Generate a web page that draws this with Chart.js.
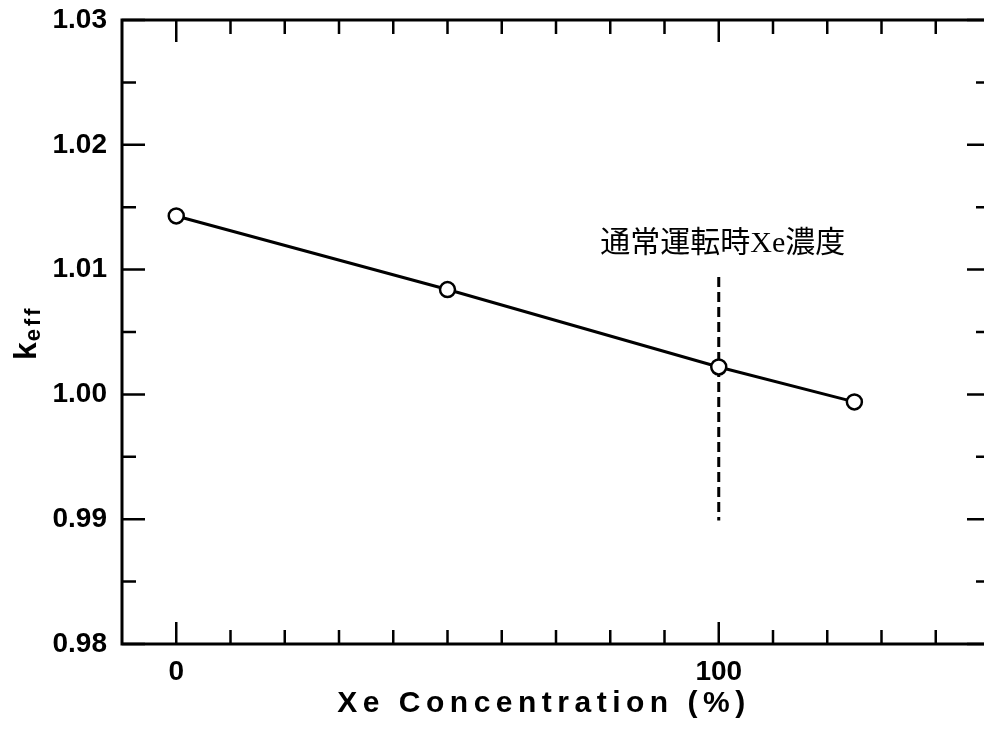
<!DOCTYPE html>
<html>
<head>
<meta charset="utf-8">
<script src="https://cdn.jsdelivr.net/npm/chart.js@4"></script>
<style>
  html, body { margin: 0; padding: 0; overflow: hidden; background: #fff; }
  #wrap { width: 1000px; height: 729px; }
</style>
</head>
<body>
<div id="wrap"><canvas id="myChart"></canvas></div>
<script>
const xeConc = [0, 50, 100, 125];
const keff = [1.0143, 1.0084, 1.0022, 0.9994];
const markerX = [100, 100];
const markerY = [1.0094, 0.9899];
const xLabelTicks = [0, 100];
const xMinorTicks = [10, 20, 30, 40, 50, 60, 70, 80, 90, 110, 120, 130, 140];
const yLabelTicks = [0.98, 0.99, 1.0, 1.01, 1.02, 1.03];
const yMinorTicks = [0.985, 0.995, 1.005, 1.015, 1.025];
const noteText = "通常運転時Xe濃度";
const noteX = 100;
const noteY = 1.0117;
const xTitle = "Xe Concentration (%)";

const tickFont = { family: "'Liberation Sans', Arial, sans-serif", size: 28, weight: "bold" };

// frame and inward ticks on all four sides
const framePlugin = {
  id: "frame",
  beforeDatasetsDraw(chart) {
    const { ctx, chartArea: a, scales } = chart;
    const xs = scales.x, ys = scales.y;
    ctx.save();
    ctx.strokeStyle = "black";
    ctx.lineWidth = 2.5;
    ctx.beginPath();
    const tickX = (v, len) => {
      const p = xs.getPixelForValue(v);
      ctx.moveTo(p, a.bottom); ctx.lineTo(p, a.bottom - len);
      ctx.moveTo(p, a.top); ctx.lineTo(p, a.top + len);
    };
    const tickY = (v, len) => {
      const p = ys.getPixelForValue(v);
      ctx.moveTo(a.left, p); ctx.lineTo(a.left + len, p);
      ctx.moveTo(a.right, p); ctx.lineTo(a.right - len, p);
    };
    xLabelTicks.forEach(v => tickX(v, 22));
    xMinorTicks.forEach(v => tickX(v, 14));
    yLabelTicks.forEach(v => tickY(v, 23));
    yMinorTicks.forEach(v => tickY(v, 14));
    ctx.stroke();
    ctx.lineWidth = 3;
    ctx.strokeRect(a.left, a.top, a.right - a.left, a.bottom - a.top);
    ctx.restore();
  },
  afterDraw(chart) {
    const { ctx, chartArea: a, scales } = chart;
    ctx.save();
    ctx.fillStyle = "black";

    // x title
    ctx.font = "bold 30px 'Liberation Sans', Arial, sans-serif";
    ctx.letterSpacing = "5.5px";
    ctx.textAlign = "center";
    ctx.textBaseline = "alphabetic";
    ctx.fillText(xTitle, a.left + 422, 712);

    // y title k_eff
    ctx.translate(36, 360);
    ctx.rotate(-Math.PI / 2);
    ctx.textAlign = "left";
    ctx.letterSpacing = "0px";
    ctx.font = "bold 32px 'Liberation Sans', Arial, sans-serif";
    ctx.fillText("k", 0, 0);
    const w = ctx.measureText("k").width;
    ctx.font = "bold 22px 'Liberation Sans', Arial, sans-serif";
    ctx.letterSpacing = "3px";
    ctx.fillText("eff", w + 1, 4);
    ctx.restore();

    // annotation
    ctx.save();
    ctx.fillStyle = "black";
    ctx.font = "30px 'Liberation Serif', 'Noto Sans CJK JP', serif";
    ctx.textAlign = "center";
    ctx.textBaseline = "alphabetic";
    ctx.fillText(noteText, scales.x.getPixelForValue(noteX) + 4, scales.y.getPixelForValue(noteY) + 4);
    ctx.restore();
  }
};

const ctx = document.getElementById("myChart");
new Chart(ctx, {
  type: "scatter",
  data: {
    datasets: [
      {
        data: xeConc.map((x, i) => ({ x: x, y: keff[i] })),
        showLine: true,
        borderColor: "black",
        borderWidth: 3,
        pointRadius: 7.5,
        pointBackgroundColor: "white",
        pointBorderColor: "black",
        pointBorderWidth: 2.5,
      },
      {
        data: markerX.map((x, i) => ({ x: x, y: markerY[i] })),
        showLine: true,
        borderColor: "black",
        borderWidth: 3,
        borderDash: [10, 5],
        pointRadius: 0,
      },
    ],
  },
  options: {
    responsive: true,
    maintainAspectRatio: false,
    animation: false,
    layout: { padding: { top: 20, right: 8, left: 0, bottom: 0 } },
    plugins: { legend: { display: false }, tooltip: { enabled: false } },
    scales: {
      x: {
        type: "linear",
        min: -10,
        max: 150,
        afterBuildTicks: (s) => { s.ticks = xLabelTicks.map(v => ({ value: v })); },
        afterFit: (s) => { s.height = 85; s.paddingLeft = 0; s.paddingRight = 0; },
        grid: { display: false, drawTicks: false },
        border: { display: false },
        ticks: { color: "black", font: tickFont, padding: 11, maxRotation: 0, callback: (v) => String(v) },
      },
      y: {
        type: "linear",
        min: 0.98,
        max: 1.03,
        afterBuildTicks: (s) => { s.ticks = yLabelTicks.map(v => ({ value: v })); },
        afterFit: (s) => { s.width = 122; s.paddingTop = 0; s.paddingBottom = 0; },
        grid: { display: false, drawTicks: false },
        border: { display: false },
        ticks: { color: "black", font: tickFont, padding: 15, callback: (v) => v.toFixed(2) },
      },
    },
  },
  plugins: [framePlugin],
});
</script>
</body>
</html>
